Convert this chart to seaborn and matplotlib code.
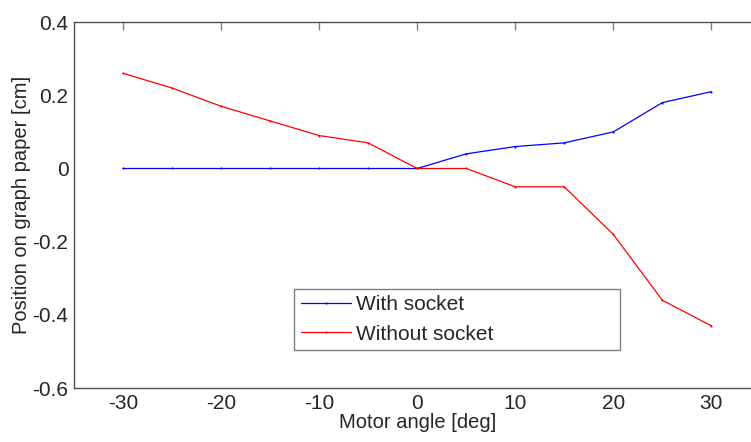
import pandas as pd
import matplotlib
matplotlib.use("Agg")
import matplotlib.pyplot as plt
import seaborn as sns

# data
angle = [-30, -25, -20, -15, -10, -5, 0, 5, 10, 15, 20, 25, 30]
with_socket = [0, 0, 0, 0, 0, 0, 0, 0.04, 0.06, 0.07, 0.10, 0.18, 0.21]
without_socket = [0.26, 0.22, 0.17, 0.13, 0.09, 0.07, 0, 0, -0.05, -0.05, -0.18, -0.36, -0.43]
series_names = ["With socket", "Without socket"]

df = pd.DataFrame({
    "angle": angle * 2,
    "pos": with_socket + without_socket,
    "series": [series_names[0]] * len(angle) + [series_names[1]] * len(angle),
})

sns.set_style("white")
plt.rcParams["font.family"] = ["Liberation Sans", "DejaVu Sans"]

fig = plt.figure(figsize=(7.51, 4.42), dpi=100)
ax = fig.add_axes([0.0985, 0.122, 0.914, 0.828])

sns.lineplot(data=df, x="angle", y="pos", hue="series",
             palette={"With socket": "#0000ff", "Without socket": "#ff0000"},
             marker=".", markersize=3, markeredgewidth=0, linewidth=0.9,
             ax=ax)

ax.set_xlim(-35, 35)
ax.set_ylim(-0.6, 0.4)
ax.set_xticks([-30, -20, -10, 0, 10, 20, 30])
ax.set_yticks([-0.6, -0.4, -0.2, 0, 0.2, 0.4])
ax.set_xticklabels(["-30", "-20", "-10", "0", "10", "20", "30"])
ax.set_yticklabels(["-0.6", "-0.4", "-0.2", "0", "0.2", "0.4"])
ax.tick_params(direction="in", length=6, width=1, color="#808080",
               labelsize=15, top=True, right=True, pad=4)
for s in ax.spines.values():
    s.set_color("#4d4d4d")
    s.set_linewidth(1)

ax.set_xlabel("Motor angle [deg]", fontsize=14.5, labelpad=0)
ax.set_ylabel("Position on graph paper [cm]", fontsize=14.5, labelpad=1)

leg = ax.legend(loc="lower left", bbox_to_anchor=(0.321, 0.104, 0.475, 0.167),
                mode="expand", fontsize=15,
                frameon=True, fancybox=False, borderpad=0.3,
                handlelength=2.4, handletextpad=0.25, labelspacing=0.5,
                borderaxespad=0)
leg.get_frame().set_edgecolor("#606060")
leg.get_frame().set_linewidth(1)

fig.savefig("out.png", dpi=100)
